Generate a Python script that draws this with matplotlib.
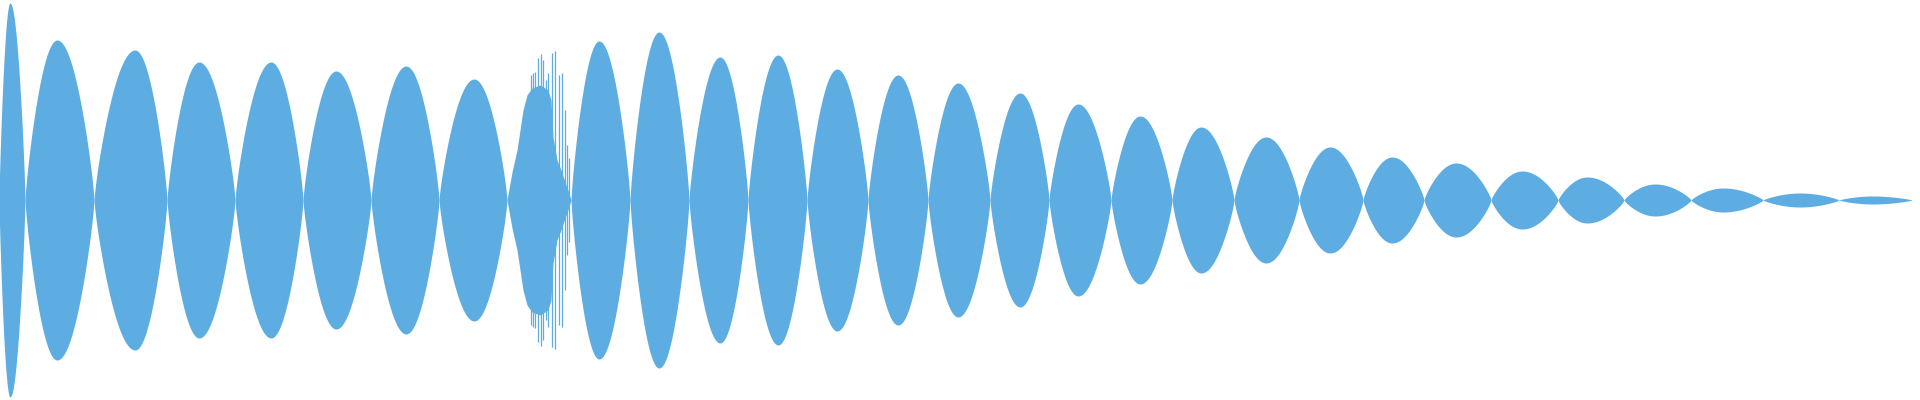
import numpy as np
import matplotlib
matplotlib.use("Agg")
import matplotlib.pyplot as plt

# ---- data (time axis in ms, amplitude normalised to full scale) ----
# zero crossings of the envelope (lobe boundaries)
zero_ms = [-1, 25, 94, 167, 235, 303, 371, 439, 507,
           571, 630, 689, 748, 807, 868, 928, 990, 1049, 1111, 1172,
           1234, 1299, 1363, 1424, 1491, 1558, 1624, 1691, 1763, 1839, 1912]
# peak time of each lobe (None = noisy burst lobe drawn separately)
peak_ms = [10, 57, 135, 199, 271, 336, 406, 474, None,
           599, 659, 720, 778, 837, 898, 958, 1020, 1078, 1140, 1201,
           1266, 1330, 1392, 1456, 1522, 1587, 1655, 1723, 1800, 1872]
peak_amp = [0.985, 0.80, 0.75, 0.69, 0.69, 0.645, 0.67, 0.605, None,
            0.795, 0.84, 0.715, 0.725, 0.655, 0.625, 0.585, 0.535, 0.48, 0.42, 0.365,
            0.315, 0.265, 0.215, 0.185, 0.145, 0.115, 0.08, 0.06, 0.035, 0.02]

# noisy burst: solid body profile
burst_ms = [507, 512, 517, 523, 527, 532, 540, 548, 551, 553, 557, 561, 565, 568, 571]
burst_amp = [0.0, 0.14, 0.25, 0.45, 0.525, 0.56, 0.575, 0.55, 0.50, 0.315, 0.20, 0.15, 0.09, 0.05, 0.0]
# noisy burst: individual spikes
spike_ms = [531, 533, 535, 538, 541, 543, 546, 548, 552, 555, 559, 562, 565, 567, 569]
spike_amp = [0.625, 0.635, 0.64, 0.71, 0.73, 0.70, 0.60, 0.635, 0.735, 0.745, 0.625, 0.635, 0.45, 0.275, 0.21]

COLOR = "#5DADE2"
SHAPE = 0.8

fig = plt.figure(figsize=(19.2, 4), dpi=100)
ax = fig.add_axes([0, 0, 1, 1])
ax.set_xlim(0, 1920)
ax.set_ylim(-1, 1)
ax.axis("off")

for i, (pk, amp) in enumerate(zip(peak_ms, peak_amp)):
    if pk is None:
        continue
    z0, z1 = zero_ms[i], zero_ms[i + 1]
    t_up = np.linspace(z0, pk, 60)
    t_dn = np.linspace(pk, z1, 60)
    e_up = amp * np.sin(np.pi / 2 * (t_up - z0) / (pk - z0)) ** SHAPE
    e_dn = amp * np.sin(np.pi / 2 * (z1 - t_dn) / (z1 - pk)) ** SHAPE
    t = np.concatenate([t_up, t_dn])
    e = np.concatenate([e_up, e_dn])
    ax.fill_between(t, -e, e, color=COLOR, linewidth=0)

bx = np.array(burst_ms)
ba = np.array(burst_amp)
ax.fill_between(bx, -ba, ba, color=COLOR, linewidth=0)
sa = np.array(spike_amp)
ax.vlines(spike_ms, -sa, sa, color=COLOR, linewidth=0.9)

fig.savefig("out.png", dpi=100, facecolor="white")
